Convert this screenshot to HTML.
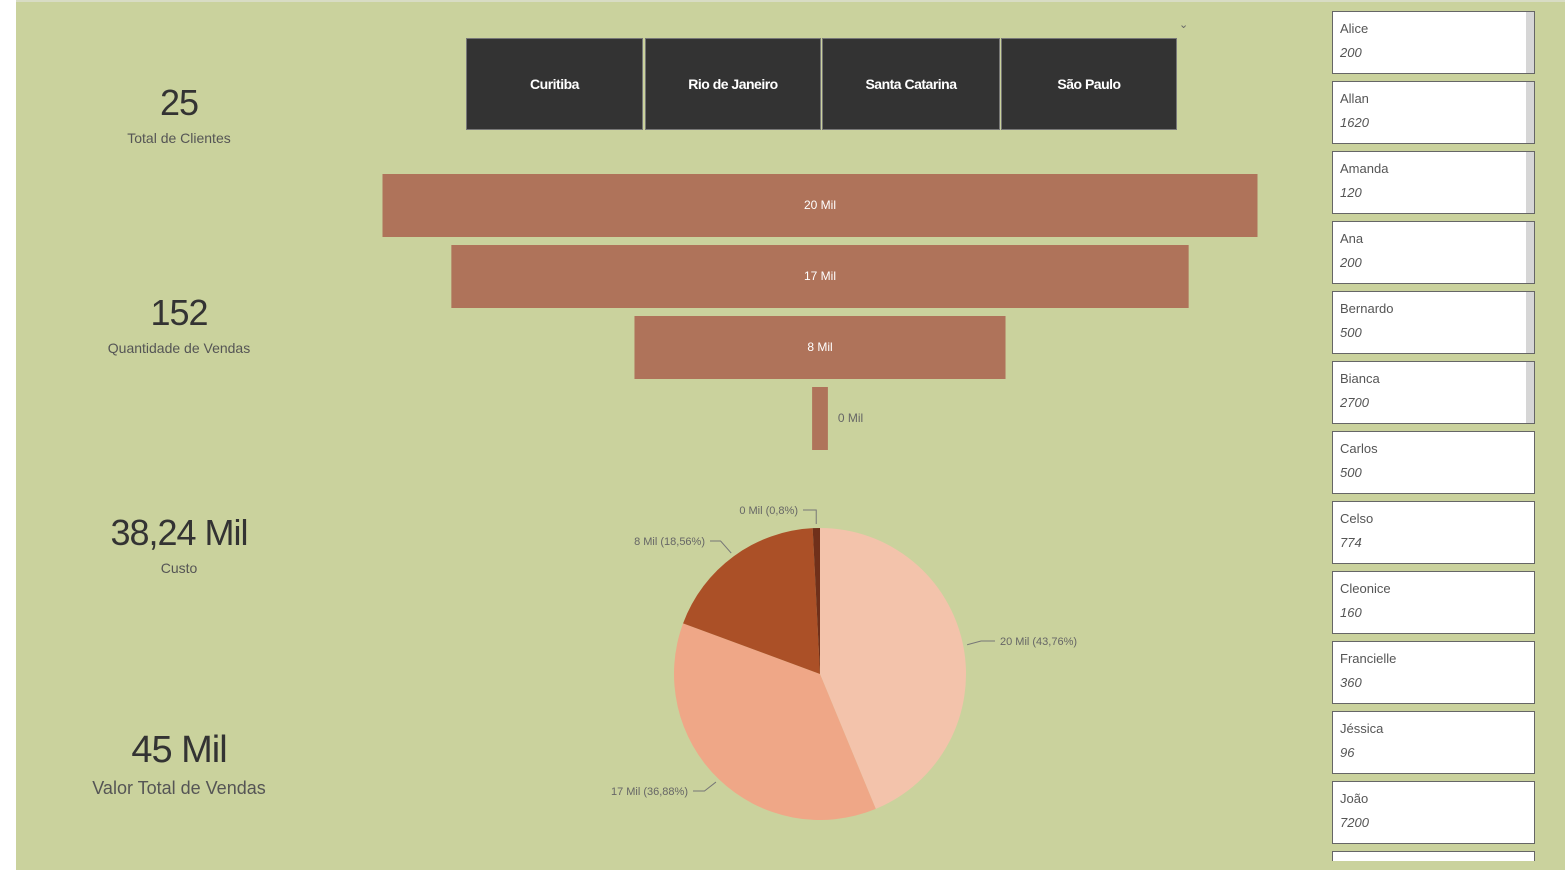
<!DOCTYPE html>
<html style="width:1565px;height:871px;overflow:hidden"><head><meta charset="utf-8">
<style>
body{margin:0;width:1565px;height:871px;background:#fff;position:relative;overflow:hidden;font-family:"Liberation Sans",sans-serif;}
#canvas{position:absolute;left:16px;top:0;width:1549px;height:870px;background:#cad29d;border-top:2px solid #d8dcc4;box-sizing:border-box;}
.kpi{position:absolute;left:0;width:330px;text-align:center;color:#333;}
.kpi .v{font-weight:300;letter-spacing:-1px;}
.kpi .l{color:#555;}
.btn{position:absolute;top:38px;height:92px;background:#333;border:1px solid #777;box-sizing:border-box;color:#fff;font-size:14px;font-weight:bold;display:flex;align-items:center;justify-content:center;letter-spacing:-0.5px;}
.card{position:absolute;left:1332px;width:203px;height:63px;background:#fff;border:1px solid #666;box-sizing:border-box;}
.card .n{position:absolute;left:7px;top:9px;font-size:13px;color:#555;}
.card .q{position:absolute;left:7px;top:33px;font-size:13px;color:#555;font-style:italic;}
.card .sb{position:absolute;right:0;top:0;width:8px;height:100%;background:#d6d6d6;}
</style></head><body>
<div id="canvas"></div>
<div class="kpi" style="top:82px;left:14px"><div class="v" style="font-size:36px">25</div><div class="l" style="font-size:14px;margin-top:6px">Total de Clientes</div></div>
<div class="kpi" style="top:292px;left:14px"><div class="v" style="font-size:36px">152</div><div class="l" style="font-size:14px;margin-top:6px">Quantidade de Vendas</div></div>
<div class="kpi" style="top:512px;left:14px"><div class="v" style="font-size:36px">38,24 Mil</div><div class="l" style="font-size:14px;margin-top:6px">Custo</div></div>
<div class="kpi" style="top:729px;left:14px"><div class="v" style="font-size:38px">45 Mil</div><div class="l" style="font-size:18px;margin-top:6px">Valor Total de Vendas</div></div>

<div class="btn" style="left:466px;width:177px">Curitiba</div>
<div class="btn" style="left:645px;width:176px">Rio de Janeiro</div>
<div class="btn" style="left:822px;width:178px">Santa Catarina</div>
<div class="btn" style="left:1001px;width:176px">São Paulo</div>
<div style="position:absolute;left:1179px;top:18px;color:#666;font-size:11px">&#8964;</div>

<svg id="chart" width="1565" height="871" style="position:absolute;left:0;top:0"></svg>

<div id="cards"></div>
<script>
const funnelLabels=["20 Mil","17 Mil","8 Mil","0 Mil"];
const funnelValues=[19.95,16.81,8.46,0.36];
const pieValues=[43.76,36.88,18.56,0.8];
const pieLabels=["20 Mil (43,76%)","17 Mil (36,88%)","8 Mil (18,56%)","0 Mil (0,8%)"];
const pieColors=["#f3c3ab","#efa787","#ab5027","#70301a"];
const names=["Alice","Allan","Amanda","Ana","Bernardo","Bianca","Carlos","Celso","Cleonice","Francielle","Jéssica","João","Jorge"];
const qtys=["200","1620","120","200","500","2700","500","774","160","360","96","7200",""];

const NS="http://www.w3.org/2000/svg";
const svg=document.getElementById('chart');
function mk(t,a){const e=document.createElementNS(NS,t);for(const k in a)e.setAttribute(k,a[k]);svg.appendChild(e);return e;}
const cx=820,maxW=875,fmax=Math.max(...funnelValues);
const xw=v=>v/fmax*maxW;
funnelValues.forEach((v,i)=>{
  const w=xw(v),y=174+i*71;
  const r=mk('rect',{x:cx-w/2,y:y,width:w,height:63,fill:'#af735a'});
  
  
  const inside=w>60;
  const t=mk('text',{x:inside?cx:cx+w/2+10,y:y+35,fill:inside?'#fff':'#666','font-size':12,'text-anchor':inside?'middle':'start','font-family':'Liberation Sans'});
  t.textContent=funnelLabels[i];
  
  
});
const pcx=820,pcy=674,R=146,tot=pieValues.reduce((a,b)=>a+b,0);
let a0=-Math.PI/2;
const lblPos=[[1000,645,'start'],[688,795,'end'],[705,545,'end'],[798,514,'end']];
pieValues.forEach((v,i)=>{
  const a1=a0+v/tot*2*Math.PI;
  const p=(a)=>[pcx+R*Math.cos(a),pcy+R*Math.sin(a)];
  const [x0,y0]=p(a0),[x1,y1]=p(a1);
  const large=(a1-a0)>Math.PI?1:0;
  const s=mk('path',{d:`M${pcx},${pcy}L${x0},${y0}A${R},${R} 0 ${large} 1 ${x1},${y1}Z`,fill:pieColors[i]});
  
  
  const am=(a0+a1)/2;
  const [ex,ey]=[pcx+(R+4)*Math.cos(am),pcy+(R+4)*Math.sin(am)];
  const [lx,ly,anc]=lblPos[i];
  const kx=anc==='start'?lx-5:lx+5;
  const ln=mk('polyline',{points:`${ex},${ey} ${i==3?ex:(ex+kx)/2},${ly-4} ${kx},${ly-4}`,fill:'none',stroke:'#777','stroke-width':1});
  
  
  const t=mk('text',{x:lx,y:ly,fill:'#666','font-size':11,'text-anchor':anc,'font-family':'Liberation Sans'});
  t.textContent=pieLabels[i];
  
  
  a0=a1;
});
const cards=document.getElementById('cards');
names.forEach((n,i)=>{
  const d=document.createElement('div');
  d.className='card';
  d.style.top=(11+i*70)+'px';
  if(i===12){d.style.height='10px';d.style.borderBottom='none';}
  
  
  d.innerHTML=(i<6?'<div class="sb"></div>':'')+(i<12?`<div class="n">${n}</div><div class="q">${qtys[i]}</div>`:'');
  cards.appendChild(d);
});
</script>
</body></html>
